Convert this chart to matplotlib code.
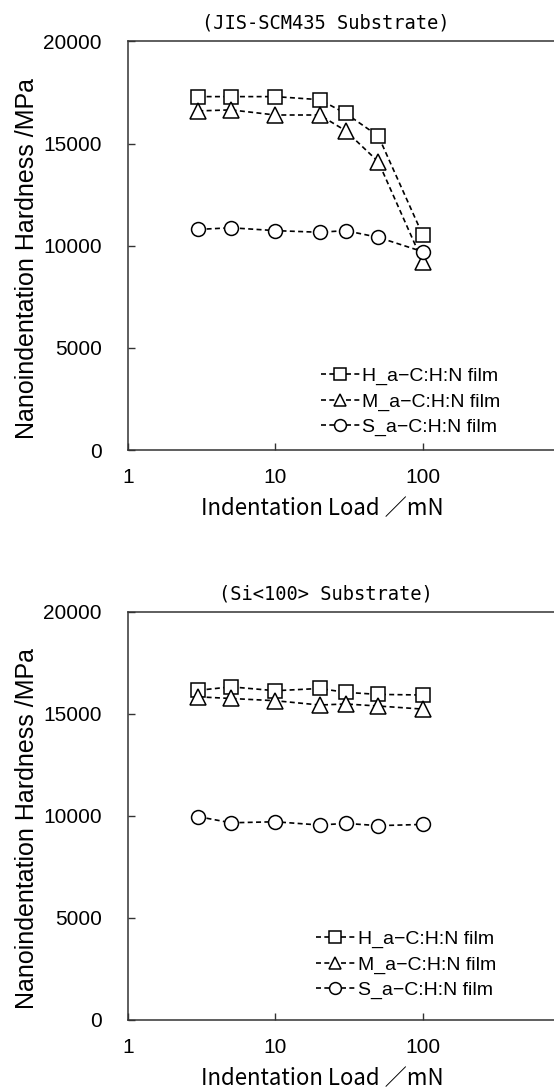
import numpy as np
import matplotlib
matplotlib.use('Agg')
import matplotlib.pyplot as plt

# indentation load (mN)
load = [3, 5, 10, 20, 30, 50, 100]

# JIS-SCM435 substrate
scm_h = [17300, 17300, 17300, 17150, 16480, 15370, 10530]
scm_m = [16600, 16650, 16400, 16400, 15630, 14110, 9220]
scm_s = [10800, 10880, 10740, 10660, 10740, 10410, 9710]

# Si<100> substrate
si_h = [16150, 16320, 16130, 16240, 16050, 15950, 15920]
si_m = [15830, 15750, 15640, 15430, 15480, 15380, 15230]
si_s = [9960, 9660, 9710, 9550, 9630, 9520, 9580]

names = ['H_a\u2212C:H:N film', 'M_a\u2212C:H:N film', 'S_a\u2212C:H:N film']
markers = ['s', '^', 'o']
titles = ['(JIS-SCM435 Substrate)', '(Si<100> Substrate)']
yticks = [0, 5000, 10000, 15000, 20000]

arial = 'Liberation Sans'
gothic = ['Noto Sans CJK JP', 'DejaVu Sans']

fig = plt.figure(figsize=(5.54, 10.91), dpi=100)
pos = [[0.231, 0.5875, 0.798, 0.3745], [0.231, 0.0651, 0.798, 0.3742]]
data = [[scm_h, scm_m, scm_s], [si_h, si_m, si_s]]
leg_anchor = [(0.405, 0.0), (0.394, 0.017)]

for k in range(2):
    ax = fig.add_axes(pos[k])
    for vals, mk, nm in zip(data[k], markers, names):
        ax.plot(load, vals, color='black', lw=1.2, dashes=(3, 2), marker=mk,
                ms=10 if mk != '^' else 11, mfc='white', mec='black', mew=1.1, label=nm,
                clip_on=False)
    ax.set_xscale('log')
    ax.set_xlim(1, 1000)
    ax.set_ylim(0, 20000)
    ax.set_yticks(yticks)
    ax.set_yticklabels([str(v) for v in yticks], fontsize=15, family=arial)
    ax.set_xticks([1, 10, 100])
    ax.set_xticklabels(['1', '10', '100'], fontsize=15, family=arial)
    ax.xaxis.set_minor_locator(matplotlib.ticker.NullLocator())
    ax.tick_params(direction='in', length=5, width=1, color='#333333')
    ax.tick_params(axis='x', pad=13)
    ax.tick_params(axis='y', pad=19)
    for s in ['top', 'left', 'bottom']:
        ax.spines[s].set_color('#333333')
        ax.spines[s].set_linewidth(1.1)
    ax.spines['right'].set_visible(False)
    ax.set_ylabel('Nanoindentation Hardness /MPa', fontsize=18, family=arial, labelpad=3, y=0.47)
    ax.set_xlabel('Indentation Load \uff0fmN', fontsize=16, family=gothic, labelpad=7, x=0.44)
    ax.set_title(titles[k], fontsize=13.5, family='DejaVu Sans Mono', pad=9, x=0.448)
    ax.legend(loc='lower left', bbox_to_anchor=leg_anchor[k], frameon=False,
              prop={'family': arial, 'size': 14}, handlelength=2.0,
              handletextpad=0.15, labelspacing=0.4, borderpad=0.2,
              markerscale=0.85)

fig.savefig('out.png', dpi=100)
